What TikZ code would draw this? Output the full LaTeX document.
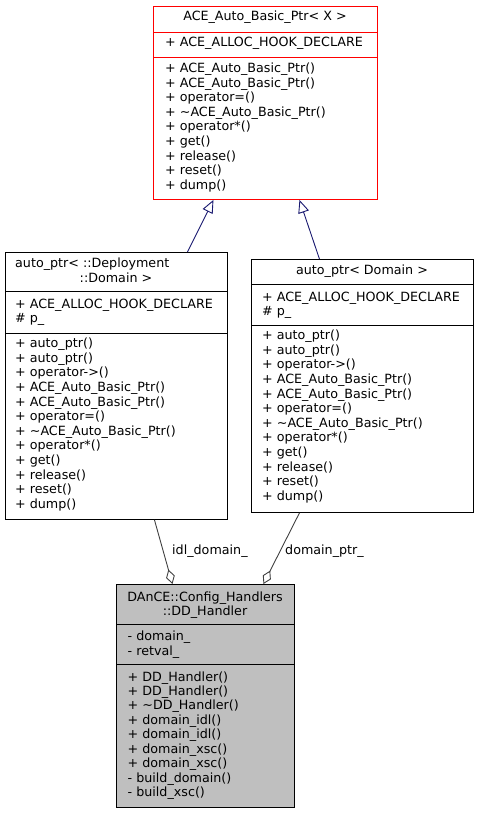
\documentclass[tikz,border=0pt]{standalone}
\usepackage{fontspec}
\setmainfont{DejaVu Sans}
\usetikzlibrary{arrows.meta}
\definecolor{inhblue}{HTML}{191970}
\definecolor{aggray}{HTML}{404040}
\definecolor{redborder}{HTML}{FF0000}
\definecolor{fillgray}{HTML}{BFBFBF}
\tikzset{
  box/.style={draw, line width=0.9pt, inner sep=0pt, anchor=north west},
  sep/.style={line width=0.9pt},
  txt/.style={anchor=base west, inner sep=0pt, font=\fontsize{12.7}{14.6}\selectfont},
  ctxt/.style={anchor=base, inner sep=0pt, font=\fontsize{12.7}{14.6}\selectfont},
  inh/.style={draw=inhblue, line width=0.9pt, -{Triangle[open,length=13pt,width=11pt]}},
  agg/.style={draw=aggray, line width=0.9pt, -{Diamond[open,length=15pt,width=9pt]}},
}
\begin{document}
\begin{tikzpicture}[x=1pt,y=-1pt]
\useasboundingbox (0,0) rectangle (479,813);

% ---------- top class ----------
\node[box, draw=redborder, fill=white, minimum width=224pt, minimum height=193pt] (T) at (153,6) {};
\draw[sep, redborder] (153,32) -- (377,32);
\draw[sep, redborder] (153,57) -- (377,57);
\node[ctxt] (Ttitle) at (265,21) {ACE\_Auto\_Basic\_Ptr< X >};
\node[txt] (Ta1) at (165,47) {+ ACE\_ALLOC\_HOOK\_DECLARE};
\foreach \t [count=\i] in {+ ACE\_Auto\_Basic\_Ptr(), + ACE\_Auto\_Basic\_Ptr(), + operator=(), + \textasciitilde{}ACE\_Auto\_Basic\_Ptr(), + operator*(), + get(), + release(), + reset(), + dump()}
  \node[txt] (Tm\i) at (165,{72.5+(\i-1)*14.6}) {\t};

% ---------- left class ----------
\node[box, fill=white, minimum width=222pt, minimum height=267pt] (L) at (5,252) {};
\draw[sep] (5,291) -- (227,291);
\draw[sep] (5,333) -- (227,333);
\node[txt] (Ltitle1) at (15,267.3) {auto\_ptr< ::Deployment};
\node[ctxt] (Ltitle2) at (116,282) {::Domain >};
\node[txt] (La1) at (15,308.3) {+ ACE\_ALLOC\_HOOK\_DECLARE};
\node[txt] (La2) at (15,322.9) {\# p\_};
\foreach \t [count=\i] in {+ auto\_ptr(), + auto\_ptr(), + operator->(), + ACE\_Auto\_Basic\_Ptr(), + ACE\_Auto\_Basic\_Ptr(), + operator=(), + \textasciitilde{}ACE\_Auto\_Basic\_Ptr(), + operator*(), + get(), + release(), + reset(), + dump()}
  \node[txt] (Lm\i) at (15,{347.7+(\i-1)*14.6}) {\t};

% ---------- right class ----------
\node[box, fill=white, minimum width=222pt, minimum height=253pt] (R) at (251,259) {};
\draw[sep] (251,284) -- (473,284);
\draw[sep] (251,325) -- (473,325);
\node[ctxt] (Rtitle) at (362,274) {auto\_ptr< Domain >};
\node[txt] (Ra1) at (262,301) {+ ACE\_ALLOC\_HOOK\_DECLARE};
\node[txt] (Ra2) at (262,315.6) {\# p\_};
\foreach \t [count=\i] in {+ auto\_ptr(), + auto\_ptr(), + operator->(), + ACE\_Auto\_Basic\_Ptr(), + ACE\_Auto\_Basic\_Ptr(), + operator=(), + \textasciitilde{}ACE\_Auto\_Basic\_Ptr(), + operator*(), + get(), + release(), + reset(), + dump()}
  \node[txt] (Rm\i) at (262,{339.7+(\i-1)*14.6}) {\t};

% ---------- bottom class ----------
\node[box, fill=fillgray, minimum width=178pt, minimum height=223pt] (B) at (116,584) {};
\draw[sep] (116,624) -- (294,624);
\draw[sep] (116,664) -- (294,664);
\node[ctxt] (Btitle1) at (205,601) {DAnCE::Config\_Handlers};
\node[ctxt] (Btitle2) at (205,615) {::DD\_Handler};
\node[txt] (Ba1) at (127.5,640.7) {- domain\_};
\node[txt] (Ba2) at (127.5,655) {- retval\_};
\foreach \t [count=\i] in {+ DD\_Handler(), + DD\_Handler(), + \textasciitilde{}DD\_Handler(), + domain\_idl(), + domain\_idl(), + domain\_xsc(), + domain\_xsc(), - build\_domain(), - build\_xsc()}
  \node[txt] (Bm\i) at (127.5,{681+(\i-1)*14.46}) {\t};

% ---------- connectors ----------
\draw[inh] ([xshift=71pt]L.north) -- ([xshift=-52pt]T.south);
\draw[inh] ([xshift=-43pt]R.north) -- ([xshift=34pt]T.south);
\draw[agg] ([xshift=38pt]L.south) -- ([xshift=-33pt]B.north);
\draw[agg] ([xshift=-63pt]R.south) -- ([xshift=58pt]B.north);
\node[txt] (lab1) at (172,554) {idl\_domain\_};
\node[txt] (lab2) at (285,554) {domain\_ptr\_};
\end{tikzpicture}
\end{document}
